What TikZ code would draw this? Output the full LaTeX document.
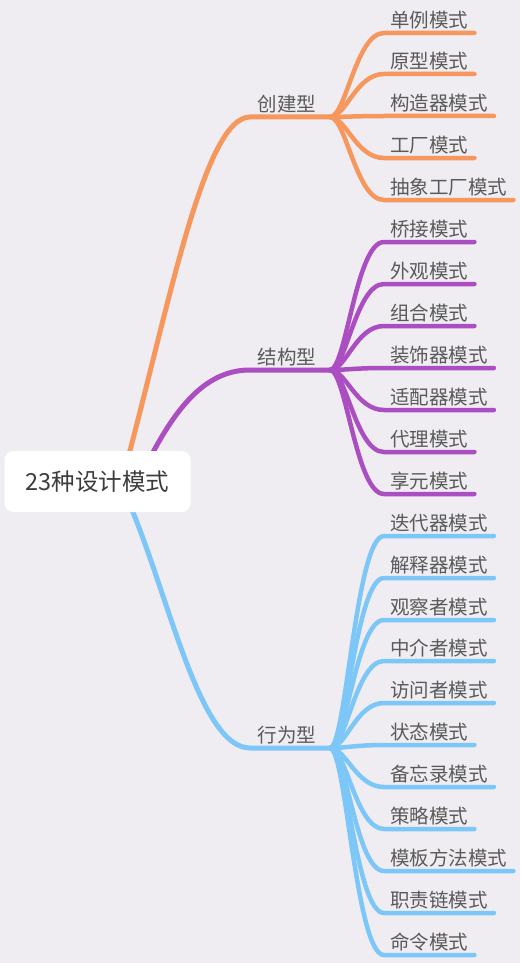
\documentclass[tikz,border=0pt]{standalone}
\usepackage{fontspec}
\setmainfont{Noto Sans CJK SC}
\definecolor{bgc}{HTML}{EFEDF1}
\definecolor{orc}{HTML}{F6975E}
\definecolor{puc}{HTML}{AA4EC2}
\definecolor{blc}{HTML}{7CC7F7}
\definecolor{txc}{HTML}{5A5A5A}
\definecolor{rootc}{HTML}{3C3C3C}
\tikzset{
  leaf/.style={anchor=south west, inner xsep=6pt, inner ysep=4pt, font=\fontsize{19.5}{21}\selectfont, text=txc},
  branchlbl/.style={font=\fontsize{19.5}{21}\selectfont, text=txc, anchor=south, inner ysep=4pt},
  wire/.style={line width=5pt, line cap=round},
  twig/.style={line width=4.5pt, line cap=round},
}
\begin{document}
\begin{tikzpicture}[x=1pt,y=-1pt]
\useasboundingbox (0,0) rectangle (520,963);
\fill[bgc] (0,0) rectangle (520,963);
% hubs
\coordinate (hA0) at (250,117);
\coordinate (hA) at (330,117);
\coordinate (hB0) at (250,370);
\coordinate (hB) at (330,370);
\coordinate (hC0) at (250,748);
\coordinate (hC) at (330,748);
\coordinate (sA) at (128,458);
\coordinate (sB) at (150,458);
\coordinate (sC) at (130,505);
% main branches
\draw[wire,orc] (sA) .. controls (170,300) and (205,117) .. (hA0) -- (hA);
\draw[wire,puc] (sB) .. controls (180,400) and (210,370) .. (hB0) -- (hB);
\draw[wire,blc] (sC) .. controls (170,600) and (200,748) .. (hC0) -- (hC);
% root
\node[fill=white, rounded corners=9pt, minimum width=186pt, minimum height=61pt, font=\fontsize{23.5}{25}\selectfont, text=rootc] (root) at (97.5,481.5) {23种设计模式};
% branch labels
\node[branchlbl] (bA) at (287,117) {创建型};
\node[branchlbl] (bB) at (287,370) {结构型};
\node[branchlbl] (bC) at (287,748) {行为型};
% leaves
\foreach \n/\y/\t/\c/\h in {
  1/33/单例模式/orc/hA, 2/74/原型模式/orc/hA, 3/116/构造器模式/orc/hA, 4/158/工厂模式/orc/hA, 5/200/抽象工厂模式/orc/hA,
  6/242/桥接模式/puc/hB, 7/284/外观模式/puc/hB, 8/326/组合模式/puc/hB, 9/368/装饰器模式/puc/hB, 10/410/适配器模式/puc/hB, 11/452/代理模式/puc/hB, 12/494/享元模式/puc/hB,
  13/536/迭代器模式/blc/hC, 14/578/解释器模式/blc/hC, 15/620/观察者模式/blc/hC, 16/661/中介者模式/blc/hC, 17/703/访问者模式/blc/hC, 18/745/状态模式/blc/hC, 19/787/备忘录模式/blc/hC, 20/829/策略模式/blc/hC, 21/871/模板方法模式/blc/hC, 22/913/职责链模式/blc/hC, 23/955/命令模式/blc/hC}{
  \node[leaf] (l\n) at (384,\y) {\t};
  \draw[twig,\c] (\h) .. controls +(16,0) and +(-28,0) .. (l\n.south west) -- (l\n.south east);
}
\end{tikzpicture}
\end{document}
